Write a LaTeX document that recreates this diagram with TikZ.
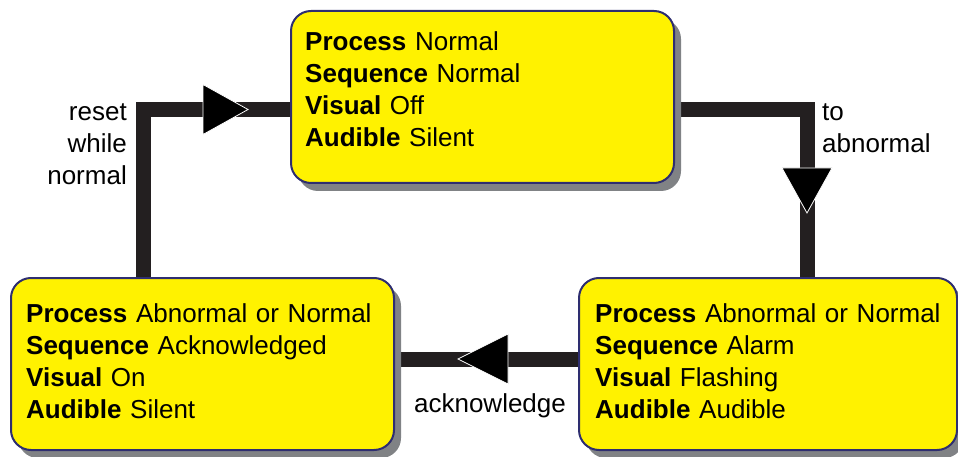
\documentclass[tikz,border=0pt]{standalone}
\usepackage{fontspec}
\setmainfont{Liberation Sans}
\usetikzlibrary{shadows}
\definecolor{boxyellow}{RGB}{255,242,0}
\definecolor{navy}{RGB}{46,46,112}
\definecolor{linegray}{RGB}{35,31,32}
\definecolor{shadowgray}{RGB}{128,130,133}
\pgfdeclarelayer{background}
\pgfsetlayers{background,main}
\begin{document}
\begin{tikzpicture}[x=1pt,y=-1pt,
  statebox/.style={draw=navy, line width=2pt, fill=boxyellow, rounded corners=20pt,
    anchor=north west, inner sep=0pt, minimum height=172pt,
    drop shadow={shadow xshift=7pt, shadow yshift=-8pt, opacity=1, fill=shadowgray}},
  boxtext/.style={font=\fontsize{26}{32}\selectfont, inner sep=0pt, align=left,
    text width=370pt, anchor=base west},
  lbl/.style={font=\fontsize{26}{32}\selectfont, inner sep=0pt},
  conn/.style={draw=linegray, line width=15pt, line join=miter},
  tri/.style={fill=black, draw=white, line width=0.8pt, line join=miter}
]
\useasboundingbox (0,0) rectangle (958,457);
% boxes
\node[statebox, minimum width=383pt] (top) at (290,10) {};
\node[statebox, minimum width=383pt] (bl) at (10,277) {};
\node[statebox, minimum width=378pt] (br) at (578,277) {};
% texts
\node[boxtext] (toptxt) at (305,51) {\textbf{Process} Normal\\\textbf{Sequence} Normal\\\textbf{Visual} Off\\\textbf{Audible} Silent};
\node[boxtext] (bltxt) at (26,322) {\textbf{Process} Abnormal or Normal\\\textbf{Sequence} Acknowledged\\\textbf{Visual} On\\\textbf{Audible} Silent};
\node[boxtext] (brtxt) at (595,322) {\textbf{Process} Abnormal or Normal\\\textbf{Sequence} Alarm\\\textbf{Visual} Flashing\\\textbf{Audible} Audible};
% connector helper coordinates
\coordinate (c1) at (143,109.5);
\coordinate (c2) at (807,109.5);
\coordinate (c3) at (485,359);
\begin{pgfonlayer}{background}
\draw[conn] (bl.north -| c1) |- (top.west |- c1);
\draw[conn] (top.east |- c2) -| (br.north -| c2);
\draw[conn] (br.west |- c3) -- (bl.east |- c3);
\end{pgfonlayer}
% arrowheads
\coordinate (t1) at (248,109.5);
\coordinate (t2) at (807,213);
\coordinate (t3) at (458,359);
\draw[tri] (t1) -- ++(-45,-25) -- ++(0,50) -- cycle;
\draw[tri] (t2) -- ++(-25,-45) -- ++(50,0) -- cycle;
\draw[tri] (t3) -- ++(50,-25) -- ++(0,50) -- cycle;
% labels
\node[lbl, text width=100pt, align=right, anchor=base east] (reset) at (127,121) {reset\\while\\normal};
\node[lbl, text width=130pt, align=left, anchor=base west] (toab) at (822,121) {to\\abnormal};
\node[lbl, anchor=base] (ack) at (490,412) {acknowledge};
\end{tikzpicture}
\end{document}
